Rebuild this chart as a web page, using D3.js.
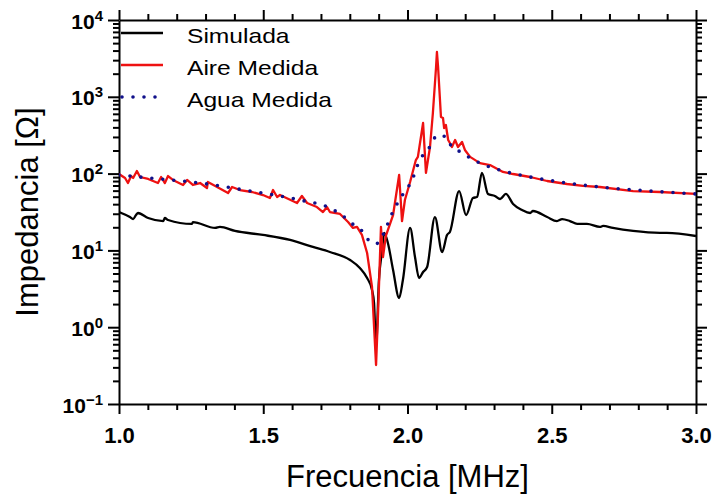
<!DOCTYPE html>
<html>
<head>
<meta charset="utf-8">
<script src="https://cdn.jsdelivr.net/npm/d3@7"></script>
<style>
  body { margin: 0; background: #fff; }
  svg { display: block; font-family: "Liberation Sans", Arial, sans-serif; }
  .axis path, .axis line { stroke: #000; stroke-width: 2; }
  .axis text { font-family: "Liberation Sans", Arial, sans-serif; font-weight: bold; font-size: 22px; fill: #000; }
</style>
</head>
<body>
<svg id="chart" width="714" height="496"></svg>
<script>
/* ---- data: [frequency MHz, impedance ohm] ---- */
const simulada = [
  [1.000,31.6],[1.038,27.2],[1.049,25.6],[1.059,28.9],[1.066,30.7],[1.101,26.4],[1.153,24.1],
  [1.159,26.4],[1.170,24.9],[1.253,22.1],[1.256,23.4],[1.333,19.6],[1.350,20.2],[1.402,17.9],
  [1.499,15.9],[1.593,13.7],[1.672,11.1],[1.731,9.53],[1.801,7.50],[1.835,5.90],[1.860,4.37],
  [1.877,3.05],[1.884,2.07],[1.891,0.586],[1.901,4.12],[1.912,10.1],[1.919,16.9],[1.932,12.5],
  [1.950,5.56],[1.971,2.40],[1.984,4.12],[2.009,19.6],[2.026,8.20],[2.040,4.37],[2.054,5.23],
  [2.068,6.08],[2.095,27.2],[2.120,9.53],[2.137,15.9],[2.147,17.4],[2.179,59.3],[2.203,28.9],
  [2.227,48.1],[2.241,49.6],[2.258,102],[2.279,54.3],[2.303,51.1],[2.321,46.7],[2.341,54.3],
  [2.366,40.2],[2.397,33.6],[2.425,30.7],[2.435,32.6],[2.484,27.2],[2.518,24.1],[2.536,25.6],
  [2.563,24.1],[2.588,22.1],[2.622,22.1],[2.667,20.2],[2.678,20.8],[2.712,19.6],[2.782,17.9],
  [2.875,16.9],[2.899,16.9],[3.000,15.4]
];

const aireMedida = [
  [1.000,98.8],[1.021,87.6],[1.031,75.4],[1.042,93.0],[1.049,87.6],[1.062,108],[1.073,90.3],
  [1.101,85.1],[1.135,75.4],[1.146,90.3],[1.159,75.4],[1.170,93.0],[1.187,82.6],[1.222,71.1],
  [1.236,82.6],[1.256,71.1],[1.281,75.4],[1.305,64.9],[1.308,77.8],[1.340,66.9],[1.378,55.9],
  [1.392,66.9],[1.419,61.1],[1.461,57.6],[1.499,52.6],[1.523,48.1],[1.534,61.1],[1.548,49.6],
  [1.558,52.6],[1.617,41.4],[1.634,51.1],[1.652,41.4],[1.686,36.7],[1.707,31.6],[1.721,36.7],
  [1.731,31.6],[1.766,29.8],[1.794,23.4],[1.811,19.6],[1.825,20.2],[1.842,15.9],[1.860,9.25],
  [1.877,3.34],[1.891,0.322],[1.898,1.53],[1.908,20.2],[1.915,8.20],[1.925,15.4],[1.950,28.9],
  [1.971,95.9],[1.981,24.1],[1.991,45.3],[2.009,77.8],[2.029,150],[2.036,165],[2.054,456],
  [2.064,102],[2.078,222],[2.088,615],[2.099,2444],[2.102,3833],[2.106,2444],[2.116,546],
  [2.123,530],[2.127,392],[2.133,429],[2.141,274],[2.147,250],[2.154,222],[2.165,274],
  [2.175,222],[2.189,258],[2.199,203],[2.217,165],[2.251,137],[2.286,129],[2.331,105],
  [2.366,98.8],[2.425,90.3],[2.484,80.1],[2.553,73.2],[2.608,69.0],[2.667,66.9],[2.782,59.3],
  [2.875,57.6],[3.000,54.3]
];

const aguaMedida = [
  [1.000,95.9],[1.107,87.6],[1.281,75.4],[1.454,59.3],[1.627,45.3],[1.731,35.7],[1.790,25.6],
  [1.818,20.8],[1.846,17.4],[1.867,13.3],[1.891,12.1],[1.908,14.5],[1.925,19.0],[1.939,26.4],
  [1.957,35.7],[1.971,45.3],[1.995,61.1],[2.016,82.6],[2.029,111],[2.043,155],[2.068,191],
  [2.085,258],[2.106,318],[2.133,300],[2.154,222],[2.185,191],[2.217,160],[2.251,137],
  [2.321,111],[2.425,90.3],[2.529,77.8],[2.667,66.9],[2.841,59.3],[3.000,54.3]
];

const xMajorTicks = [1.0, 1.5, 2.0, 2.5, 3.0];
const yMajorExp = [-1, 0, 1, 2, 3, 4];
const legendLabels = ["Simulada", "Aire Medida", "Agua Medida"];

/* ---- layout ---- */
const margin = { top: 20, right: 18, bottom: 92, left: 119 };
const width = 714 - margin.left - margin.right;
const height = 496 - margin.top - margin.bottom;

const svg = d3.select("#chart");
const g = svg.append("g").attr("transform", `translate(${margin.left},${margin.top})`);

const x = d3.scaleLinear().domain([1, 3]).range([0, width]);
const y = d3.scaleLog().domain([0.1, 10000]).range([height, 0]);

const xMinorTicks = d3.range(10, 31).map(d => d / 10).filter(d => !xMajorTicks.some(m => Math.abs(m - d) < 1e-9));
const yMajorTicks = yMajorExp.map(e => Math.pow(10, e));
const yMinorTicks = [];
yMajorExp.slice(0, -1).forEach(e => { for (let k = 2; k <= 9; k++) yMinorTicks.push(k * Math.pow(10, e)); });

const addAxis = (axis, tx, ty) =>
  g.append("g").attr("class", "axis").attr("transform", `translate(${tx},${ty})`).call(axis);

// minor ticks (no domain line)
addAxis(d3.axisBottom(x).tickValues(xMinorTicks).tickSize(6).tickSizeOuter(0).tickFormat(""), 0, height).select(".domain").remove();
addAxis(d3.axisTop(x).tickValues(xMinorTicks).tickSize(6).tickSizeOuter(0).tickFormat(""), 0, 0).select(".domain").remove();
addAxis(d3.axisLeft(y).tickValues(yMinorTicks).tickSize(6).tickSizeOuter(0).tickFormat(""), 0, 0).select(".domain").remove();
addAxis(d3.axisRight(y).tickValues(yMinorTicks).tickSize(6).tickSizeOuter(0).tickFormat(""), width, 0).select(".domain").remove();

// major ticks
addAxis(d3.axisBottom(x).tickValues(xMajorTicks).tickSize(10).tickSizeOuter(0).tickPadding(13).tickFormat(d3.format(".1f")), 0, height);
addAxis(d3.axisTop(x).tickValues(xMajorTicks).tickSize(10).tickSizeOuter(0).tickFormat(""), 0, 0);
addAxis(d3.axisRight(y).tickValues(yMajorTicks).tickSize(11).tickSizeOuter(0).tickFormat(""), width, 0);
const yAxis = addAxis(d3.axisLeft(y).tickValues(yMajorTicks).tickSize(11).tickSizeOuter(0).tickFormat(""), 0, 0);

// 10^n labels
yAxis.selectAll(".tick").each(function (d) {
  const t = d3.select(this).append("text")
    .attr("x", -16).attr("y", 8)
    .attr("text-anchor", "end")
    .style("font-size", "21px");
  t.append("tspan").text("10");
  const e = Math.round(Math.log10(d));
  t.append("tspan").attr("dy", -8).style("font-size", "15px").text(e < 0 ? "\u2212" + (-e) : e);
});

/* ---- series ---- */
g.append("clipPath").attr("id", "plot-clip")
  .append("rect").attr("width", width).attr("height", height);

const sharpLine = d3.line().x(d => x(d[0])).y(d => y(d[1]));
const smoothLine = d3.line().curve(d3.curveMonotoneX).x(d => x(d[0])).y(d => y(d[1]));
const plot = g.append("g").attr("clip-path", "url(#plot-clip)");

plot.append("path").datum(simulada).attr("d", smoothLine)
  .attr("fill", "none").attr("stroke", "#000").attr("stroke-width", 2.3).attr("stroke-linejoin", "round");

plot.append("path").datum(aireMedida).attr("d", sharpLine)
  .attr("fill", "none").attr("stroke", "#ee1111").attr("stroke-width", 2.3).attr("stroke-linejoin", "round");

plot.append("path").datum(aguaMedida).attr("d", smoothLine)
  .attr("fill", "none").attr("stroke", "#10108a").attr("stroke-width", 3.6)
  .attr("stroke-linecap", "round").attr("stroke-dasharray", "0,11");

/* ---- legend ---- */
const legendStyles = [
  { stroke: "#000", width: 2.3, dash: null, cap: "butt" },
  { stroke: "#ee1111", width: 2.3, dash: null, cap: "butt" },
  { stroke: "#10108a", width: 3.6, dash: "0,11", cap: "round" }
];
const legend = svg.append("g");
legendLabels.forEach((lab, i) => {
  const ly = 33 + i * 32;
  const s = legendStyles[i];
  legend.append("line")
    .attr("x1", i === 2 ? 122 : 121).attr("x2", 163).attr("y1", ly).attr("y2", ly)
    .attr("stroke", s.stroke).attr("stroke-width", s.width)
    .attr("stroke-linecap", s.cap).attr("stroke-dasharray", s.dash);
  // the legend text in the reference is drawn a little wider than tall
  legend.append("text")
    .attr("transform", `translate(187,${ly + 10}) scale(1.2,1)`)
    .style("font-size", "20.5px").style("fill", "#000")
    .text(lab);
});

/* ---- axis titles ---- */
svg.append("text")
  .attr("x", margin.left + width / 2).attr("y", 487)
  .attr("text-anchor", "middle")
  .style("font-size", "31px")
  .text("Frecuencia [MHz]");

svg.append("text")
  .attr("transform", `translate(38,${margin.top + height / 2}) rotate(-90)`)
  .attr("text-anchor", "middle")
  .style("font-size", "31px")
  .text("Impedancia [Ω]");
</script>
</body>
</html>
